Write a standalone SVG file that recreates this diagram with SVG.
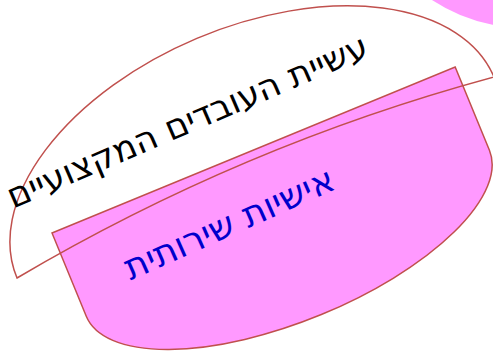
<svg xmlns="http://www.w3.org/2000/svg" width="493" height="352" viewBox="0 0 493 352">
<style>
.outline{stroke:#c0504d;stroke-width:1.5}
.pink{fill:#ff99ff}
.lbl{font-family:"DejaVu Sans","Noto Sans",sans-serif;text-anchor:middle}
</style>
<rect width="493" height="352" fill="#ffffff"/>
<g id="node-corner">
<circle class="pink" cx="526" cy="-144" r="172"/>
</g>
<g id="node-service">
<path class="pink outline" transform="translate(52,233) rotate(-22.38)" d="M0,0 H436 V90 A218,88 0 0 1 0,90 Z"/>
<text class="lbl" fill="#0000cc" font-size="35.5" transform="translate(234,234.5) rotate(-24)">אישיות שירותית</text>
</g>
<g id="node-professional">
<path class="outline" fill="none" transform="translate(255.5,177.5) rotate(-22.85)" d="M-258.8,0 A258.8,151 0 0 1 258.8,0 Q0,-35 -258.8,0 Z"/>
<text class="lbl" fill="#000000" font-size="34.5" transform="translate(192,132) rotate(-23.2)">עשיית העובדים המקצועיים</text>
</g>
<g id="connectors"/>
</svg>
